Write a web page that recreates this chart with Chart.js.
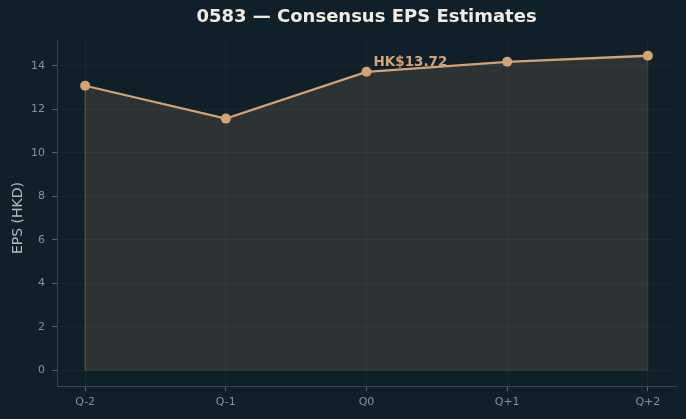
<!DOCTYPE html>
<html>
<head>
<meta charset="utf-8">
<script src="https://cdn.jsdelivr.net/npm/chart.js@4.4.1/dist/chart.umd.min.js"></script>
<style>
  html, body { margin: 0; padding: 0; background: #10202a; }
  #wrap { width: 686px; height: 419px; }
  canvas { display: block; }
</style>
</head>
<body>
<div id="wrap"><canvas id="c" width="686" height="419"></canvas></div>
<script>
// ---- data ----
const categories = ["Q-2", "Q-1", "Q0", "Q+1", "Q+2"];
const epsValues = [13.08, 11.57, 13.72, 14.18, 14.46];
const yTicks = [0, 2, 4, 6, 8, 10, 12, 14];
const highlightIndex = 2;
const titleText = "0583 \u2014 Consensus EPS Estimates";
const yTitle = "EPS (HKD)";

const LINE = "#d4a373";
const FONT = "'DejaVu Sans', sans-serif";

const mainPts = epsValues.map((v, i) => ({ x: i, y: v }));
const last = epsValues.length - 1;
const outlinePts = [
  { x: 0, y: epsValues[0] }, { x: 0, y: 0 },
  { x: last, y: 0 }, { x: last, y: epsValues[last] }
];

const annotate = {
  id: "annotate",
  afterDatasetsDraw(chart) {
    const { ctx, scales, chartArea } = chart;
    const px = scales.x.getPixelForValue(highlightIndex);
    const py = scales.y.getPixelForValue(epsValues[highlightIndex]);
    ctx.save();
    ctx.font = "bold 13.5px " + FONT;
    ctx.fillStyle = LINE;
    ctx.textAlign = "left";
    ctx.textBaseline = "alphabetic";
    ctx.fillText("HK$" + epsValues[highlightIndex].toFixed(2), px + 7, py - 6);
    // y axis title
    ctx.translate(18, (chartArea.top + chartArea.bottom) / 2 + 5);
    ctx.rotate(-Math.PI / 2);
    ctx.font = "14px " + FONT;
    ctx.fillStyle = "#b6babd";
    ctx.textAlign = "center";
    ctx.textBaseline = "middle";
    ctx.fillText(yTitle, 0, 0);
    ctx.restore();
  }
};

new Chart(document.getElementById("c"), {
  type: "line",
  data: {
    datasets: [
      {
        data: mainPts,
        borderColor: LINE,
        borderWidth: 2.3,
        backgroundColor: "rgba(212,163,115,0.15)",
        fill: { value: 0 },
        pointRadius: 5,
        pointBackgroundColor: LINE,
        pointBorderWidth: 0,
        tension: 0
      },
      {
        data: outlinePts,
        borderColor: "rgba(212,163,115,0.14)",
        borderWidth: 1,
        pointRadius: 0,
        fill: false,
        tension: 0
      }
    ]
  },
  options: {
    responsive: false,
    animation: false,
    layout: { padding: { left: 0, right: 10, top: 0, bottom: 0 } },
    plugins: {
      legend: { display: false },
      tooltip: { enabled: false },
      title: {
        display: true,
        fullSize: false,
        text: titleText,
        color: "#f0ebe3",
        font: { family: FONT, size: 18, weight: "bold", lineHeight: 1.2 },
        padding: { top: 6.5, bottom: 11.9 }
      }
    },
    scales: {
      x: {
        type: "linear",
        min: -0.2,
        max: 4.2,
        afterFit(s) { s.height = 33; },
        ticks: {
          stepSize: 1,
          includeBounds: false,
          padding: 5,
          color: "#8a9096",
          font: { family: FONT, size: 11 },
          callback: (v) => (Number.isInteger(v) ? categories[v] : "")
        },
        grid: { color: "rgba(255,255,255,0.035)", tickColor: "#5a6166", tickLength: 5 },
        border: { color: "#3e4549", width: 1 }
      },
      y: {
        type: "linear",
        min: -0.723,
        max: 15.183,
        afterFit(s) { s.width = 57; },
        afterBuildTicks(s) { s.ticks = yTicks.map(v => ({ value: v })); },
        ticks: {
          stepSize: 2,
          includeBounds: false,
          padding: 7,
          color: "#8a9096",
          font: { family: FONT, size: 11 }
        },
        title: { display: false },
        grid: { color: "rgba(255,255,255,0.035)", tickColor: "#5a6166", tickLength: 5 },
        border: { color: "#3e4549", width: 1 }
      }
    }
  },
  plugins: [annotate]
});
</script>
</body>
</html>
